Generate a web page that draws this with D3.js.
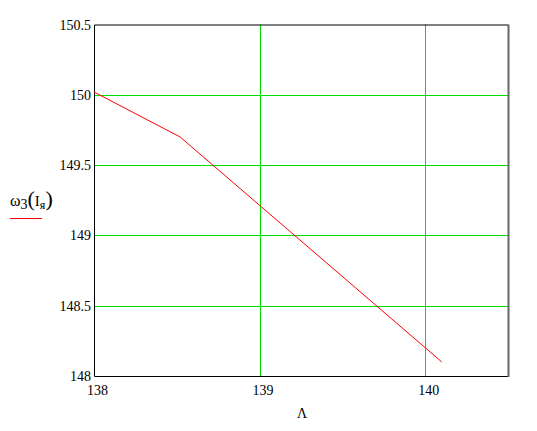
<!DOCTYPE html>
<html>
<head>
<meta charset="utf-8">
<script src="https://cdn.jsdelivr.net/npm/d3@7"></script>
<style>
  body { margin: 0; background: #fff; }
  text { font-family: "Liberation Serif", "Times New Roman", serif; font-size: 14px; fill: #000; }
</style>
</head>
<body>
<script>
// curve points
var lambda = [138, 138.52, 140.1];
var omega = [150.02, 149.70, 148.1];
var xTicks = [138, 139, 140];
var yTicks = [148, 148.5, 149, 149.5, 150, 150.5];
var xGrid = [139, 140];
var yGrid = [148.5, 149, 149.5, 150];

var W = 537, H = 431,
    pL = 94, pR = 508, pT = 24.5, pB = 376;

var x = d3.scaleLinear().domain([138, 140.5]).range([pL, pR]);
var y = d3.scaleLinear().domain([148, 150.5]).range([pB, pT]);

var svg = d3.select("body").append("svg")
    .attr("width", W)
    .attr("height", H);

// grid
svg.selectAll("line.gx").data(xGrid).enter().append("line")
    .attr("x1", function(d) { return Math.round(x(d)) + 0.5; })
    .attr("x2", function(d) { return Math.round(x(d)) + 0.5; })
    .attr("y1", pT).attr("y2", pB)
    .attr("stroke", "#00e000").attr("stroke-width", 1);

svg.selectAll("line.gy").data(yGrid).enter().append("line")
    .attr("y1", function(d) { return Math.round(y(d)) + 0.5; })
    .attr("y2", function(d) { return Math.round(y(d)) + 0.5; })
    .attr("x1", pL).attr("x2", pR)
    .attr("stroke", "#00e000").attr("stroke-width", 1);

// frame
svg.append("path")
    .attr("d", "M" + pR + "," + (pT + 0.5) + "H" + (pL + 0.5) + "V" + (pB + 0.5) + "H" + pR)
    .attr("fill", "none").attr("stroke", "#000").attr("stroke-width", 1);
svg.append("line")
    .attr("x1", pR + 0.5).attr("x2", pR + 0.5)
    .attr("y1", pT).attr("y2", pB + 1)
    .attr("stroke", "#666").attr("stroke-width", 2);

// curve
var line = d3.line()
    .x(function(d) { return x(d[0]); })
    .y(function(d) { return y(d[1]); });

svg.append("path")
    .datum(d3.zip(lambda, omega))
    .attr("d", line)
    .attr("fill", "none")
    .attr("stroke", "#ff0000")
    .attr("stroke-width", 1);

// tick labels
svg.selectAll("text.ty").data(yTicks).enter().append("text")
    .attr("x", pL - 3)
    .attr("y", function(d) { return y(d) + 5; })
    .attr("text-anchor", "end")
    .text(function(d) { return d; });

svg.selectAll("text.tx").data(xTicks).enter().append("text")
    .attr("x", function(d) { return x(d) + 3.5; })
    .attr("y", 395)
    .attr("text-anchor", "middle")
    .text(function(d) { return d; });

// axis titles
svg.append("text")
    .attr("x", 302).attr("y", 418)
    .attr("text-anchor", "middle")
    .text("Λ");

var yl = svg.append("text").attr("x", 10).attr("y", 206);
yl.append("tspan").style("font-size", "16px").text("ω");
yl.append("tspan").attr("dy", 3).style("font-size", "14px").text("3");
yl.append("tspan").attr("dy", -3).style("font-size", "22px").text("(");
yl.append("tspan").style("font-size", "15px").text("I");
yl.append("tspan").attr("dy", 3).style("font-size", "12px").text("я");
yl.append("tspan").attr("dy", -3).style("font-size", "22px").text(")");

svg.append("line")
    .attr("x1", 10).attr("x2", 42)
    .attr("y1", 218.5).attr("y2", 218.5)
    .attr("stroke", "#ff0000").attr("stroke-width", 1);
</script>
</body>
</html>
